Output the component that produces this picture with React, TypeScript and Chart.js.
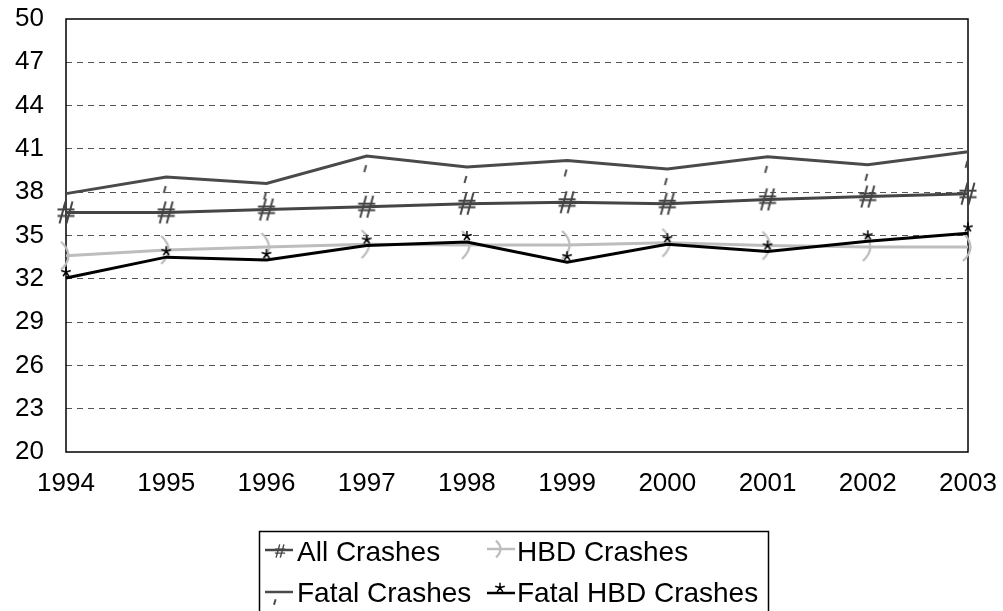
import React, { useEffect, useRef } from "react";
import { Chart, registerables } from "chart.js";

Chart.register(...registerables);

const years = ["1994", "1995", "1996", "1997", "1998", "1999", "2000", "2001", "2002", "2003"];
const allCrashes = [36.6, 36.6, 36.8, 37.0, 37.2, 37.3, 37.2, 37.5, 37.7, 37.9];
const hbdCrashes = [33.6, 34.0, 34.2, 34.4, 34.35, 34.35, 34.5, 34.3, 34.2, 34.2];
const fatalCrashes = [37.9, 39.05, 38.6, 40.5, 39.75, 40.2, 39.6, 40.45, 39.9, 40.8];
const fatalHbdCrashes = [32.05, 33.5, 33.3, 34.3, 34.55, 33.15, 34.4, 33.9, 34.6, 35.15];
const yTicks = [20, 23, 26, 29, 32, 35, 38, 41, 44, 47, 50];
const legendLabels = ["All Crashes", "HBD Crashes", "Fatal Crashes", "Fatal HBD Crashes"];

const FONT = "'Liberation Sans', Arial, Helvetica, sans-serif";
const C_ALL = "#454545";
const C_HBD = "#bdbdbd";
const C_FATAL = "#4a4a4a";
const C_FHBD = "#000000";

type Ctx = CanvasRenderingContext2D;

function drawHash(ctx: Ctx, x: number, y: number, s: number) {
  ctx.save();
  ctx.strokeStyle = C_ALL;
  ctx.lineWidth = 2 * Math.max(s, 0.7);
  ctx.beginPath();
  for (const dx of [-3.5, 3.5]) {
    ctx.moveTo(x + (dx + 3) * s, y - 11 * s);
    ctx.lineTo(x + (dx - 3) * s, y + 11 * s);
  }
  for (const dy of [-3, 3.5]) {
    ctx.moveTo(x - 8.5 * s, y + dy * s);
    ctx.lineTo(x + 8.5 * s, y + dy * s);
  }
  ctx.stroke();
  ctx.restore();
}

function drawParen(ctx: Ctx, x: number, y: number, s: number) {
  ctx.save();
  ctx.strokeStyle = C_HBD;
  ctx.lineWidth = 2.3;
  ctx.beginPath();
  ctx.moveTo(x - 5 * s, y - 14 * s);
  ctx.quadraticCurveTo(x + 10 * s, y, x - 5 * s, y + 14 * s);
  ctx.stroke();
  ctx.restore();
}

function drawTick(ctx: Ctx, x: number, y: number, s: number) {
  ctx.save();
  ctx.strokeStyle = C_FATAL;
  ctx.lineWidth = 2;
  ctx.beginPath();
  ctx.moveTo(x - 0.5 * s, y + 9 * s);
  ctx.lineTo(x - 2.5 * s, y + 16 * s);
  ctx.stroke();
  ctx.restore();
}

function drawStar(ctx: Ctx, x: number, y: number, s: number) {
  ctx.save();
  ctx.strokeStyle = C_FHBD;
  ctx.lineWidth = 1.5;
  const cy = y - 6 * s;
  const r = 5;
  ctx.beginPath();
  for (let i = 0; i < 5; i++) {
    const a = -Math.PI / 2 + (i * 2 * Math.PI) / 5;
    ctx.moveTo(x, cy);
    ctx.lineTo(x + r * Math.cos(a), cy + r * Math.sin(a));
  }
  ctx.stroke();
  ctx.restore();
}

function makeImg(w: number, h: number, draw: (ctx: Ctx, x: number, y: number, s: number) => void) {
  const c = document.createElement("canvas");
  c.width = w;
  c.height = h;
  const ctx = c.getContext("2d") as Ctx;
  draw(ctx, w / 2, h / 2, 1);
  return c;
}

const frameLegendPlugin = {
  id: "frameLegend",
  beforeDatasetsDraw(chart: any) {
    const { ctx, chartArea } = chart;
    ctx.save();
    ctx.strokeStyle = "#000";
    ctx.lineWidth = 1.5;
    ctx.strokeRect(chartArea.left, chartArea.top, chartArea.right - chartArea.left, chartArea.bottom - chartArea.top);
    ctx.restore();
  },
  afterDraw(chart: any) {
    const ctx: Ctx = chart.ctx;
    ctx.save();
    ctx.strokeStyle = "#000";
    ctx.lineWidth = 1.5;
    ctx.strokeRect(259.5, 531.5, 509, 100);
    const seg = (x1: number, x2: number, y: number, color: string) => {
      ctx.strokeStyle = color;
      ctx.lineWidth = 2.5;
      ctx.beginPath();
      ctx.moveTo(x1, y);
      ctx.lineTo(x2, y);
      ctx.stroke();
    };
    seg(265, 293, 550, C_ALL);
    drawHash(ctx, 280, 551, 0.6);
    seg(487, 515, 549, C_HBD);
    drawParen(ctx, 499, 549, 0.6);
    seg(265, 293, 592, C_FATAL);
    drawTick(ctx, 276, 592, 0.8);
    seg(487, 515, 593, C_FHBD);
    drawStar(ctx, 500, 595, 1.2);
    ctx.fillStyle = "#000";
    ctx.font = `28px ${FONT}`;
    ctx.textBaseline = "alphabetic";
    ctx.textAlign = "left";
    ctx.fillText(legendLabels[0], 297, 561);
    ctx.fillText(legendLabels[1], 517, 561);
    ctx.fillText(legendLabels[2], 297, 602);
    ctx.fillText(legendLabels[3], 517, 602);
    ctx.restore();
  },
};

const zeroPad = (s: any) => {
  s.paddingTop = 0;
  s.paddingBottom = 0;
  s.paddingLeft = 0;
  s.paddingRight = 0;
};

export default function App() {
  const ref = useRef<HTMLCanvasElement | null>(null);

  useEffect(() => {
    if (!ref.current) return;
    const hashImg = makeImg(28, 28, drawHash);
    const parenImg = makeImg(26, 34, drawParen);
    const tickImg = makeImg(12, 40, drawTick);
    const starImg = makeImg(16, 30, drawStar);

    const ds = (label: string, data: number[], color: string, img: HTMLCanvasElement) => ({
      label,
      data,
      borderColor: color,
      backgroundColor: color,
      borderWidth: 3,
      pointStyle: img,
      pointRadius: 10,
      pointHoverRadius: 10,
      tension: 0,
      clip: false,
    });

    const chart = new Chart(ref.current, {
      type: "line",
      data: {
        labels: years,
        datasets: [
          ds(legendLabels[3], fatalHbdCrashes, C_FHBD, starImg),
          ds(legendLabels[0], allCrashes, C_ALL, hashImg),
          ds(legendLabels[2], fatalCrashes, C_FATAL, tickImg),
          ds(legendLabels[1], hbdCrashes, C_HBD, parenImg),
        ] as any,
      },
      options: {
        animation: false,
        responsive: false,
        events: [],
        layout: { padding: { top: 19, right: 35, left: 0, bottom: 0 } },
        plugins: { legend: { display: false }, tooltip: { enabled: false } },
        scales: {
          x: {
            type: "category",
            offset: false,
            grid: { display: false, drawTicks: false },
            border: { display: false },
            ticks: { color: "#000", font: { size: 26, family: FONT }, padding: 16, maxRotation: 0, autoSkip: false },
            afterFit: (s: any) => {
              s.height = 159;
              zeroPad(s);
            },
          },
          y: {
            min: 20,
            max: 50,
            grid: {
              drawTicks: false,
              lineWidth: 1,
              color: (c: any) => (c.tick && (c.tick.value === 20 || c.tick.value === 50) ? "rgba(0,0,0,0)" : "#555555"),
            },
            border: { display: false, dash: [6, 5] },
            ticks: { color: "#000", font: { size: 26, family: FONT }, padding: 22 },
            afterBuildTicks: (s: any) => {
              s.ticks = yTicks.map((v) => ({ value: v }));
            },
            afterFit: (s: any) => {
              s.width = 66;
              zeroPad(s);
            },
          },
        },
      } as any,
      plugins: [frameLegendPlugin],
    });
    return () => chart.destroy();
  }, []);

  return (
    <div style={{ position: "absolute", left: 0, top: 0, width: 1003, height: 611, background: "#fff" }}>
      <canvas ref={ref} width={1003} height={611} style={{ display: "block" }} />
    </div>
  );
}
